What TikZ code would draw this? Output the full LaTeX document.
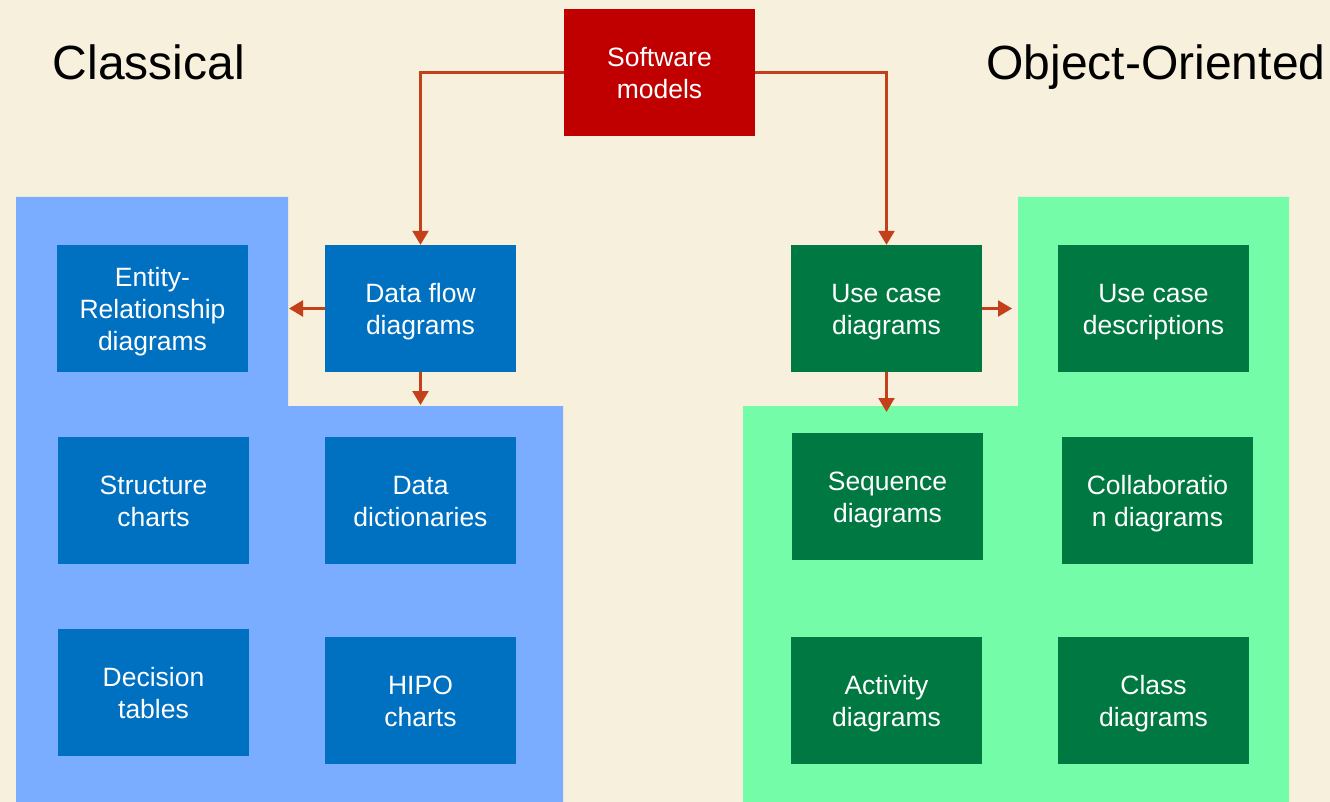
\documentclass[tikz,border=0pt]{standalone}
\usepackage{fontspec}
\setmainfont{Liberation Sans}
\usetikzlibrary{arrows.meta}
\definecolor{cream}{HTML}{F7F0DC}
\definecolor{zoneblue}{HTML}{7AADFF}
\definecolor{zonegreen}{HTML}{75FCA8}
\definecolor{boxblue}{HTML}{0070C0}
\definecolor{boxgreen}{HTML}{007842}
\definecolor{boxred}{HTML}{C00000}
\definecolor{linkred}{HTML}{C4401A}
% centred lines of a model box, set a little below the optical centre
\newcommand\boxlines[1]{\raisebox{-4pt}[\height][\depth]{\begin{tabular}{@{}c@{}}#1\end{tabular}}}
\tikzset{
  model/.style={rectangle, inner sep=0pt, minimum width=191pt, minimum height=127pt,
    text=white, font=\fontsize{26.5}{32}\selectfont},
  bluebox/.style={model, fill=boxblue},
  greenbox/.style={model, fill=boxgreen},
  redbox/.style={model, fill=boxred},
  heading/.style={font=\fontsize{48}{56}\selectfont, text=black, inner sep=0pt, anchor=base},
  link/.style={draw=linkred, line width=2.4pt, -{Triangle[length=14pt,width=16pt]}}
}
\begin{document}
\begin{tikzpicture}[x=1pt,y=-1pt]
  % page
  \fill[cream] (0,0) rectangle (1330,802);
  \useasboundingbox (0,0) rectangle (1330,802);
  % classical zone
  \fill[zoneblue] (16,197) -- (288,197) -- (288,406) -- (563,406) -- (563,802) -- (16,802) -- cycle;
  % object-oriented zone
  \fill[zonegreen] (1018,197) -- (1289,197) -- (1289,802) -- (743,802) -- (743,406) -- (1018,406) -- cycle;

  % headings
  \node[heading] (classical) at (149,80) {Classical};
  \node[heading] (oo) at (1156,80) {Object-Oriented};

  % root
  \node[redbox] (sw) at (659.5,72.5) {\boxlines{Software\\models}};

  % classical models
  \node[bluebox] (er) at (152.5,308.5) {\boxlines{Entity-\\Relationship\\diagrams}};
  \node[bluebox] (df) at (420.5,308.5) {\boxlines{Data flow\\diagrams}};
  \node[bluebox] (sc) at (153.5,500.5) {\boxlines{Structure\\charts}};
  \node[bluebox] (dd) at (420.5,500.5) {\boxlines{Data\\dictionaries}};
  \node[bluebox] (dt) at (153.5,692.5) {\boxlines{Decision\\tables}};
  \node[bluebox] (hipo) at (420.5,700.5) {\boxlines{HIPO\\charts}};

  % object-oriented models
  \node[greenbox] (uc) at (886.5,308.5) {\boxlines{Use case\\diagrams}};
  \node[greenbox] (ucd) at (1153.5,308.5) {\boxlines{Use case\\descriptions}};
  \node[greenbox] (seq) at (887.5,496.5) {\boxlines{Sequence\\diagrams}};
  \node[greenbox] (col) at (1157.5,500.5) {\boxlines{Collaboratio\\n diagrams}};
  \node[greenbox] (act) at (886.5,700.5) {\boxlines{Activity\\diagrams}};
  \node[greenbox] (cls) at (1153.5,700.5) {\boxlines{Class\\diagrams}};

  % arrow end points at the zone edges
  \coordinate (erin) at (289,308.5);
  \coordinate (ddin) at (420.5,405);
  \coordinate (ucdin) at (1012,308.5);
  \coordinate (seqin) at (886.5,412);

  % connectors
  \draw[link] (sw.west) -| (df.north);
  \draw[link] (sw.east) -| (uc.north);
  \draw[link] (df.west) -- (erin);
  \draw[link] (df.south) -- (ddin);
  \draw[link] (uc.east) -- (ucdin);
  \draw[link] (uc.south) -- (seqin);
\end{tikzpicture}
\end{document}
